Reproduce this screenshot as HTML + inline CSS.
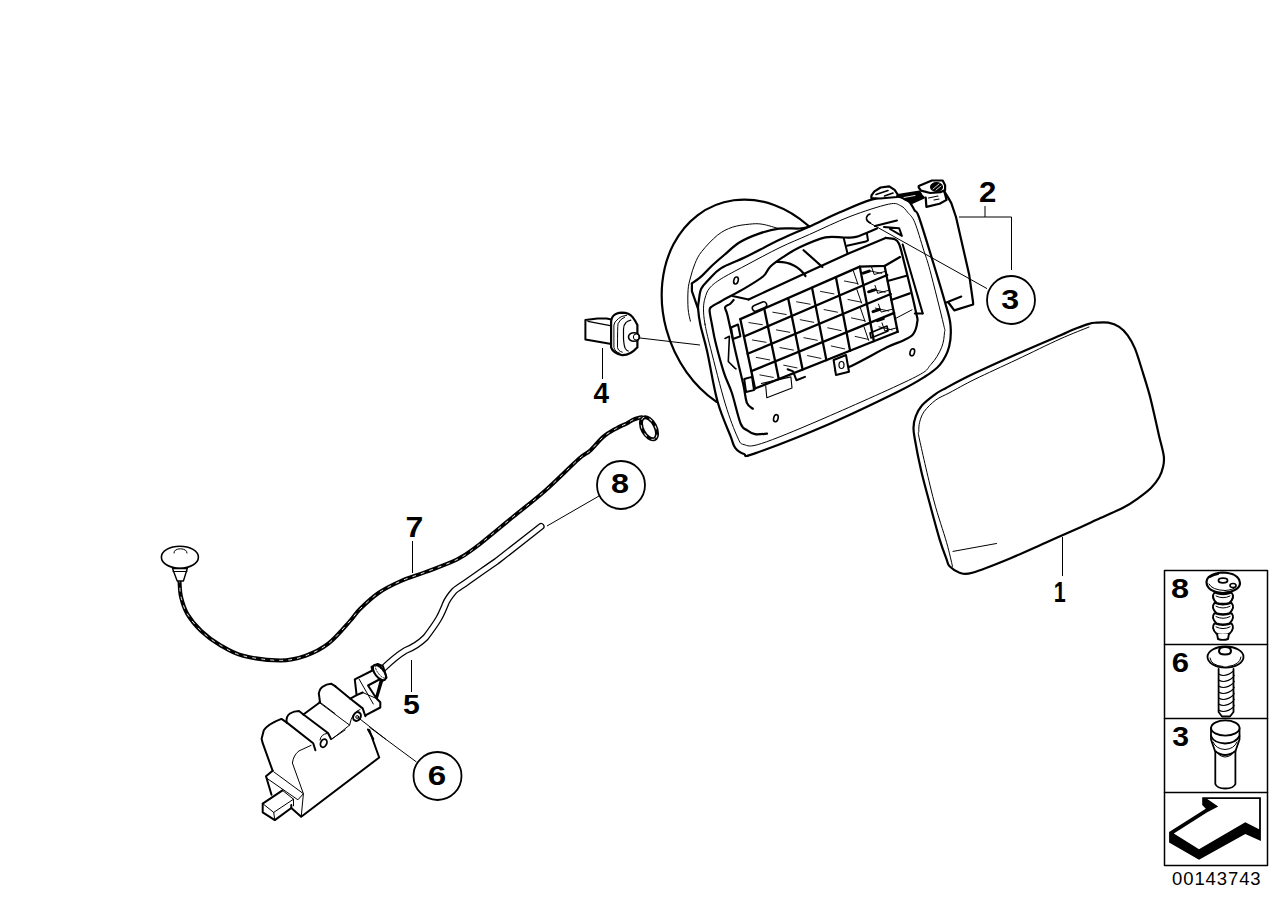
<!DOCTYPE html>
<html><head><meta charset="utf-8"><style>
html,body{margin:0;padding:0;background:#fff;}
svg{display:block;}
text{font-family:"Liberation Sans",sans-serif;font-weight:bold;fill:#000;}
</style></head><body>
<svg width="1288" height="910" viewBox="0 0 1288 910" fill="none" stroke="#000" stroke-linejoin="round" stroke-linecap="round">
<g id="labels">
<text transform="translate(978.91,202.00) scale(1.1138,1.0233)" font-size="28" stroke="none">2</text>
<text transform="translate(1001.26,308.71) scale(1.1498,0.9571)" font-size="28" stroke="none">3</text>
<text transform="translate(593.58,403.00) scale(0.9995,1.0382)" font-size="28" stroke="none">4</text>
<text transform="translate(610.96,492.72) scale(1.1591,1.0089)" font-size="28" stroke="none">8</text>
<text transform="translate(405.62,537.00) scale(1.1422,1.0382)" font-size="28" stroke="none">7</text>
<text transform="translate(403.06,714.22) scale(1.0779,0.9977)" font-size="28" stroke="none">5</text>
<text transform="translate(427.77,784.72) scale(1.1831,0.9837)" font-size="28" stroke="none">6</text>
<text transform="translate(1053.65,602.00) scale(0.7680,1.0382)" font-size="28" stroke="none">1</text>
<text transform="translate(1170.96,597.72) scale(1.1591,1.0089)" font-size="28" stroke="none">8</text>
<text transform="translate(1171.85,671.72) scale(1.1091,1.0089)" font-size="28" stroke="none">6</text>
<text transform="translate(1172.31,745.69) scale(1.0779,1.0075)" font-size="28" stroke="none">3</text>
</g>
<g stroke-width="1.8">
<circle cx="1011" cy="300" r="24"/>
<circle cx="621" cy="485" r="24"/>
<circle cx="437.5" cy="776" r="24"/>
</g>
<g stroke-width="1" stroke-linecap="butt">
<path d="M985 206V217M959 217H1011.5V270"/>
<path d="M987 288.6L868 222"/>
<path d="M599 496L547 526"/>
<path d="M416.5 762L357 718"/>
<path d="M411.5 660V692"/>
<path d="M412.5 541V573"/>
<path d="M602.5 348V379"/>
<path d="M640 338L700 345"/>
<path d="M1062.5 537V576"/>
</g>
<g id="legend">
<rect x="1164.5" y="570.5" width="103" height="295" stroke-width="1.5"/>
<path d="M1164.5 644.5H1267.5M1164.5 718.5H1267.5M1164.5 792.5H1267.5" stroke-width="1.5"/>
<text x="1172" y="885" font-size="18.5" letter-spacing="0.9" stroke="none" style="font-weight:normal">00143743</text>
<path d="M1202.2 797.3H1260.9V841L1245.3 834L1199 859.8L1169.1 842.6V832L1205.8 808.8L1202.2 805Z" fill="#000" stroke="none"/>
<path d="M1173.8 833.6L1206.8 812.6L1218.2 806.4L1207.3 799.1H1259.1V829.2L1245.3 822.3L1199 849.2Z" fill="#fff" stroke="none"/>
</g>
<!-- 10_housing.svg -->
<g id="housing">
<path d="M808.4 225.8A112 92.2 -110.9 1 0 716.5 401.8" stroke-width="2.2"/>
<path d="M690.4 321.2 C690.0 319.1 688.5 314.1 688.1 308.8 C687.7 303.5 687.7 294.7 688.1 289.6 C688.5 284.5 689.2 282.4 690.4 278.0 C691.5 273.6 693.1 267.9 695.0 263.5 C696.9 259.1 698.0 256.1 701.8 251.4 C705.6 246.7 712.5 239.1 717.6 235.1 C722.7 231.1 727.1 229.0 732.4 227.2 C737.7 225.4 744.2 224.7 749.2 224.2 C754.2 223.7 757.2 223.4 762.1 224.2 C767.0 224.9 776.1 227.9 778.9 228.7" stroke-width="1"/>
<path d="M809.6 226.5 C808.0 226.8 804.8 228.1 799.7 228.5 C794.6 228.9 785.7 227.8 778.9 228.7 C772.1 229.5 765.7 231.3 759.1 233.6 C752.5 235.9 745.1 238.9 739.3 242.5 C733.5 246.1 728.8 251.1 724.2 255.0 C719.6 258.9 715.6 262.3 711.9 265.8 C708.2 269.3 705.2 272.9 701.9 275.8 C698.6 278.8 693.6 282.2 691.9 283.5" stroke-width="2.2"/>
<path d="M691.9 283.5 L691.9 291.2 L698.1 308.8" stroke-width="2.2"/>
<path d="M698.1 308.8 C697.8 304.8 698.3 304.5 698.8 301.2 C699.3 297.9 699.5 292.4 701.2 288.8 C702.9 285.2 705.5 283.1 708.8 279.6 C712.1 276.2 715.2 271.8 721.2 268.1 C727.2 264.4 735.2 262.1 745.0 257.3 C754.8 252.6 769.2 244.7 780.0 239.6 C790.8 234.5 799.7 231.0 809.6 226.5 C819.5 222.0 828.9 217.1 839.2 212.6 C849.5 208.1 862.0 202.3 871.5 199.6 C881.0 196.9 890.0 196.2 896.2 196.5 C902.4 196.8 905.4 198.9 908.5 201.2 C911.6 203.5 912.9 207.8 914.6 210.4 C916.3 213.0 916.0 209.2 918.7 216.5 C921.4 223.8 926.3 240.1 930.6 254.1 C934.9 268.1 941.2 288.8 944.5 300.5 C947.8 312.2 949.6 316.6 950.4 324.2 C951.2 331.8 950.9 339.5 949.2 346.2 C947.5 352.9 944.1 359.5 940.0 364.6 C935.9 369.7 931.8 372.3 924.6 376.9 C917.4 381.5 912.7 384.5 896.9 392.3 C881.1 400.1 853.6 413.5 830.0 423.7 C806.4 433.9 769.3 448.3 755.0 453.4 C740.7 458.4 747.3 454.9 744.0 454.0 C740.7 453.1 737.4 450.8 735.2 447.9 C733.0 445.0 733.7 444.6 730.8 436.9 C727.9 429.2 721.6 416.1 717.6 401.8 C713.6 387.5 709.9 363.6 707.0 350.8 C704.1 338.0 701.9 332.0 700.4 325.0 C698.9 318.0 698.4 312.8 698.1 308.8 Z" stroke-width="2.2"/>
<path d="M705.0 324.2 C703.8 317.6 703.5 313.1 703.5 308.8 C703.5 304.5 704.0 301.6 705.0 298.1 C706.0 294.7 706.9 291.3 709.6 288.1 C712.3 284.9 715.3 282.5 721.2 278.8 C727.1 275.1 735.2 271.0 745.0 265.8 C754.8 260.6 769.2 252.7 780.0 247.5 C790.8 242.3 797.9 239.6 809.6 234.4 C821.3 229.2 836.9 221.5 850.0 216.5 C863.1 211.5 880.0 206.0 888.5 204.2 C897.0 202.4 897.6 204.4 900.8 205.8 C904.0 207.2 905.6 209.8 907.9 212.6 C910.2 215.4 912.2 216.2 914.8 222.5 C917.4 228.8 921.2 242.2 923.7 250.2 C926.2 258.2 926.7 258.1 930.0 270.4 C933.3 282.7 941.1 313.9 943.5 324.2 C945.9 334.5 944.8 328.3 944.5 332.2 C944.2 336.1 943.8 342.3 941.5 347.7 C939.2 353.1 935.7 359.5 930.8 364.6 C925.9 369.7 930.8 369.3 912.3 378.5 C893.8 387.7 845.1 409.2 820.0 420.0 C794.9 430.8 774.2 439.4 761.5 443.5 C748.8 447.6 748.0 445.7 744.0 444.6 C740.0 443.5 740.5 443.7 737.4 436.9 C734.3 430.1 729.8 418.8 725.3 404.0 C720.8 389.2 714.0 361.7 710.6 348.4 C707.2 335.1 706.2 330.8 705.0 324.2 Z" stroke-width="1"/>
<path d="M767.0 433.6 C765.0 433.7 758.3 434.8 755.0 434.2 C751.7 433.6 749.7 432.1 747.3 430.3 C744.9 428.6 743.3 429.9 740.7 423.7 C738.1 417.5 734.7 401.5 731.9 393.0 C729.1 384.5 726.6 381.1 723.9 372.6 C721.2 364.2 717.5 350.4 715.5 342.3 C713.5 334.2 712.9 329.5 711.9 324.2 C710.9 318.9 709.6 313.3 709.6 310.4 C709.6 307.4 710.0 308.0 711.9 306.5 C713.8 305.0 715.7 304.3 721.2 301.2 C726.7 298.1 738.0 292.2 745.0 288.1 C752.0 284.0 758.8 280.0 763.0 276.5 C767.2 273.0 766.7 270.2 770.0 267.0 C773.3 263.8 777.9 260.5 782.9 257.2 C787.9 253.9 792.6 250.6 799.7 247.3 C806.8 244.0 818.0 239.0 825.4 237.4 C832.8 235.8 838.9 237.6 844.0 237.5 C849.1 237.4 850.5 238.4 856.0 236.9 C861.5 235.4 873.3 229.9 876.8 228.5" stroke-width="2.2"/>
<path d="M885.6 237.9 C887.1 238.1 892.6 238.3 894.8 239.2 C897.0 240.1 897.4 240.3 898.7 243.2 C900.0 246.1 899.8 245.0 902.7 256.4 C905.6 267.8 913.5 300.7 915.9 311.7 C918.3 322.7 917.7 318.5 917.2 322.2 C916.8 325.9 915.6 331.0 913.2 334.1 C910.8 337.2 907.1 338.5 902.7 340.7 C898.3 342.9 895.5 343.1 886.9 347.3 C878.2 351.6 859.4 362.3 850.8 366.2 C842.2 370.1 838.0 370.0 835.4 370.8" stroke-width="2.2"/>
<path d="M748.6 299.5 L814.5 269.0 L849.1 253.2 L885.6 237.9" stroke-width="2.2"/>
<path d="M732.4 296.0 L748.6 299.5" stroke-width="2"/>
<ellipse cx="736" cy="280.5" rx="2.2" ry="3.6" stroke-width="1.6" transform="rotate(15 736 280.5)"/>
<ellipse cx="912.3" cy="352.3" rx="2.2" ry="3.6" stroke-width="1.6" transform="rotate(15 912.3 352.3)"/>
<ellipse cx="775.9" cy="418.2" rx="2.2" ry="3.6" stroke-width="1.6" transform="rotate(15 775.9 418.2)"/>
<path d="M870.5 223Q866 221 866.5 217.5Q867.5 214.5 870 214" stroke-width="1.6"/>
<path d="M744.0 336.5 L887.2 275.0" stroke-width="2.3"/>
<path d="M747.6 353.8 L890.7 294.0" stroke-width="2.3"/>
<path d="M751.3 371.1 L894.2 312.9" stroke-width="2.3"/>
<path d="M755.0 388.5 L897.7 331.8" stroke-width="2.3"/>
<path d="M740.3 319.1 L859.8 266.6 L884.6 265.9 L900.0 257.1" stroke-width="2.3"/>
<path d="M740.3 319.1 L755.0 388.5" stroke-width="2.3"/>
<path d="M764.2 308.6 L778.8 379.1" stroke-width="2.3"/>
<path d="M788.1 298.1 L802.6 369.6" stroke-width="2.3"/>
<path d="M812.0 287.6 L826.4 360.1" stroke-width="2.3"/>
<path d="M835.9 277.1 L850.1 350.7" stroke-width="2.3"/>
<path d="M859.8 266.6 L873.9 341.2" stroke-width="2.3"/>
<path d="M884.6 265.9 L897.7 331.8" stroke-width="2.3"/>
<path d="M887.7 281.0 L906.5 275.8" stroke-width="2.2"/>
<path d="M891.2 300.0 L909.8 293.4" stroke-width="2.2"/>
<path d="M894.7 318.9 L912.0 309.8" stroke-width="1"/>
<path d="M748.9 322.6 L762.3 324.7" stroke-width="0.9"/>
<path d="M752.5 340.0 L766.0 342.3" stroke-width="0.9"/>
<path d="M756.2 357.4 L769.6 359.9" stroke-width="0.9"/>
<path d="M759.9 374.9 L773.3 377.4" stroke-width="0.9"/>
<path d="M772.8 312.2 L786.2 314.5" stroke-width="0.9"/>
<path d="M776.4 329.9 L789.8 332.3" stroke-width="0.9"/>
<path d="M780.0 347.6 L793.5 350.1" stroke-width="0.9"/>
<path d="M783.7 365.2 L797.1 367.9" stroke-width="0.9"/>
<path d="M796.6 301.8 L810.1 304.2" stroke-width="0.9"/>
<path d="M800.2 319.7 L813.7 322.3" stroke-width="0.9"/>
<path d="M803.9 337.7 L817.3 340.3" stroke-width="0.9"/>
<path d="M807.5 355.6 L820.9 358.4" stroke-width="0.9"/>
<path d="M820.5 291.4 L834.0 293.9" stroke-width="0.9"/>
<path d="M824.1 309.6 L837.5 312.2" stroke-width="0.9"/>
<path d="M827.7 327.8 L841.1 330.6" stroke-width="0.9"/>
<path d="M831.3 346.0 L844.7 348.9" stroke-width="0.9"/>
<path d="M844.4 281.0 L857.8 283.6" stroke-width="0.9"/>
<path d="M848.0 299.5 L861.4 302.2" stroke-width="0.9"/>
<path d="M851.5 317.9 L864.9 320.8" stroke-width="0.9"/>
<path d="M855.1 336.4 L868.5 339.4" stroke-width="0.9"/>
<path d="M868.3 270.6 L881.7 273.3" stroke-width="0.9"/>
<path d="M871.8 289.3 L885.2 292.2" stroke-width="0.9"/>
<path d="M875.3 308.1 L888.7 311.0" stroke-width="0.9"/>
<path d="M878.9 326.8 L892.2 329.9" stroke-width="0.9"/>
<path d="M956.0 217.0 L969.2 274.8 L973.1 302.5 L973.1 304.5 L954.3 310.4 L948.4 302.5" stroke-width="2.2"/>
<path d="M946.4 302.5 L961.3 296.5" stroke-width="2"/>
<path d="M922.7 313.4 L902.7 244.5" stroke-width="2"/>
<path d="M914.8 313.4 L922.7 313.4" stroke-width="2"/>
<path d="M871.3 198L871.5 195.3L874.4 191.4L880.6 187.5L889.2 186.4L894.6 189.9L897.7 194.5L897 197L880 198.5Z" stroke-width="2.2" fill="#fff"/>
<path d="M876 194.5L888 190.5M884.5 196L893 193" stroke-width="1.6"/>
<path d="M897.7 195L900.8 194.5L919.5 191.4L921.8 195.3L924.1 197.6L912.5 203L905.5 200Z" stroke-width="1.8" fill="#000"/>
<path d="M904 197.5L915 195.5" stroke="#fff" stroke-width="0.9"/>
<path d="M925.7 197.6L926.4 206.9L939.6 203.8L946.6 199.9L944.3 191.4" stroke-width="2.2" fill="#fff"/>
<path d="M928.5 198L938 196M934 200L939 199" stroke-width="1.2"/>
<path d="M918.7 186L931.9 180.5H942.7L945.1 185.2V189.9L940.4 192.2L930.3 193L921 190.6L918.7 187.5Z" stroke-width="2.2" fill="#fff"/>
<ellipse cx="936.5" cy="187" rx="5.8" ry="4.2" stroke-width="1.5" fill="#000"/>
<path d="M933 189L939 184M936 190L941 186" stroke="#fff" stroke-width="0.8"/>
<path d="M944.3 191.4 L948.2 197.6 L951.3 203.1 L956.0 217.0" stroke-width="2.2"/>
<path d="M752.9 408.8 C751.9 407.8 748.5 406.8 746.9 402.8 C745.3 398.8 745.3 393.7 743.3 384.6 C741.3 375.5 737.4 359.9 734.8 348.4 C732.2 336.9 729.2 322.5 727.6 315.7 C726.0 308.9 724.7 309.2 725.1 307.3 C725.5 305.4 728.6 305.2 730.0 304.0 C731.4 302.8 733.0 300.7 733.6 300.0" stroke-width="2.2"/>
<path d="M776 262Q795 261 805.5 276" stroke-width="2.2"/>
<path d="M803.6 250.2 L822.4 267.0" stroke-width="2.2"/>
<path d="M843.7 237.9 L847.6 253.7" stroke-width="2"/>
<path d="M847.0 245.8 L866.0 241.5 L868.0 240.3 L866.9 233.4" stroke-width="2"/>
<path d="M875.0 226.0 L896.9 220.5" stroke-width="2.2"/>
<path d="M884.0 227.0 L899.1 228.2 L901.9 235.9 L890.0 229.0" stroke-width="2"/>
<path d="M853.4 271.0 L858.0 284.5" stroke-width="1"/>
<path d="M871.4 266.6 L874.2 274.5 L885.2 271.4" stroke-width="1"/>
<path d="M856.9 289.6 L861.6 303.1" stroke-width="1"/>
<path d="M875.0 285.4 L877.7 293.3 L888.7 290.3" stroke-width="1"/>
<path d="M860.5 308.2 L865.1 321.7" stroke-width="1"/>
<path d="M878.5 304.1 L881.2 312.1 L892.2 309.2" stroke-width="1"/>
<path d="M864.0 326.8 L868.6 340.3" stroke-width="1"/>
<path d="M882.0 322.9 L884.8 330.9 L895.7 328.1" stroke-width="1"/>
<path d="M863.2 273.1L869.2 271.1" stroke-width="3"/>
<path d="M868.6 291.8L874.6 289.8" stroke-width="3"/>
<path d="M873 311.6L879 309.6" stroke-width="3"/>
<path d="M877.3 320.6L883.3 318.6" stroke-width="3"/>
<rect x="752" y="303.5" width="15" height="6" rx="3" transform="rotate(-22 759.5 306.5)" stroke-width="1.6" fill="#fff"/>
<path d="M731.0 327.5 L738.0 324.5 L740.4 336.3 L733.0 339.0 Z" stroke-width="2" fill="#fff"/>
<path d="M744.2 379.0 L752.0 376.9 L754.0 390.1 L746.0 392.0 Z" stroke-width="2" fill="#fff"/>
<path d="M761.3 383.5 L790.9 376.9 L792.0 387.9 L766.8 397.8 L765.7 385.7" stroke-width="1.1"/>
<path d="M787.6 369.2 L793.1 371.4 L796.4 380.2 L805.0 376.9" stroke-width="2"/>
<path d="M833.6 360.0 L846.0 355.0 L849.0 371.8 L836.0 375.0 Z" stroke-width="2" fill="#fff"/>
<ellipse cx="841.5" cy="365" rx="2.5" ry="3.5" stroke-width="1.2"/>
<path d="M725.0 338.5 L729.4 336.3 L728.3 361.5 L734.9 368.1 L736.0 368.9" stroke-width="1.6"/>
<path d="M870.0 333.0 L887.0 326.0 L888.0 331.0 L871.0 338.0 Z" stroke-width="1.6"/>
</g>
<!-- 15_door.svg -->
<g id="door">
<path d="M1060.0 335.4 C1069.2 331.4 1067.3 331.9 1072.1 330.0 C1076.9 328.1 1085.0 325.1 1089.0 323.9 C1093.0 322.7 1093.1 322.9 1096.3 322.7 C1099.5 322.5 1104.6 322.0 1108.4 322.7 C1112.2 323.4 1116.0 324.8 1119.2 326.9 C1122.4 329.0 1125.1 331.8 1127.7 335.4 C1130.3 339.0 1132.6 342.8 1135.0 348.7 C1137.4 354.6 1139.8 362.9 1142.2 370.5 C1144.6 378.1 1147.3 386.4 1149.5 394.6 C1151.7 402.9 1153.9 413.0 1155.5 420.0 C1157.1 427.0 1157.8 430.4 1159.2 436.4 C1160.6 442.4 1163.2 451.1 1163.8 456.2 C1164.4 461.2 1163.9 463.2 1163.1 466.7 C1162.3 470.2 1161.2 473.8 1159.2 477.3 C1157.2 480.8 1154.7 484.3 1151.2 487.8 C1147.7 491.3 1142.6 495.1 1138.0 498.4 C1133.4 501.7 1130.3 504.1 1123.5 507.6 C1116.7 511.1 1104.5 516.2 1097.2 519.5 C1090.0 522.8 1088.7 523.5 1080.0 527.4 C1071.3 531.3 1056.7 537.8 1045.0 543.0 C1033.3 548.2 1022.1 553.4 1010.0 558.4 C997.9 563.4 980.7 570.3 972.3 572.7 C963.9 575.1 963.3 573.8 959.5 572.7 C955.7 571.6 951.8 568.5 949.6 566.3 C947.5 564.1 948.2 563.8 946.6 559.3 C945.0 554.8 942.7 549.5 939.7 539.6 C936.7 529.7 931.9 511.6 928.8 500.0 C925.7 488.4 923.3 480.0 921.0 470.0 C918.7 460.0 916.2 447.1 915.0 440.0 C913.8 432.9 913.4 431.7 913.5 427.7 C913.6 423.7 914.4 419.9 915.8 416.2 C917.2 412.5 918.6 409.1 921.9 405.4 C925.2 401.7 931.7 396.8 935.8 393.8 C939.9 390.9 940.0 391.1 946.5 387.7 C953.0 384.2 963.2 378.7 975.0 373.1 C986.8 367.5 1002.8 360.3 1017.0 354.0 C1031.2 347.7 1050.8 339.4 1060.0 335.4 Z" stroke-width="2.2"/>
<path d="M952.5 566.3 C951.5 562.3 949.7 553.5 946.6 542.5 C943.5 531.5 938.2 517.1 933.7 500.0 C929.2 482.9 922.1 451.4 919.6 440.0 C917.1 428.6 918.8 434.4 918.8 431.5 C918.8 428.6 918.7 425.6 919.6 422.3 C920.5 419.0 921.5 415.2 924.2 411.5 C926.9 407.8 931.5 403.2 935.8 400.0 C940.1 396.8 943.5 396.0 950.0 392.5 C956.5 389.0 963.8 384.7 975.0 379.2 C986.2 373.7 1002.8 366.2 1017.0 359.5 C1031.2 352.8 1048.0 344.4 1060.0 339.0 C1072.0 333.6 1084.2 329.0 1089.0 327.0" stroke-width="1"/>
<path d="M953 551.4L996.5 543.5" stroke-width="1"/>
</g>
<!-- 20_cable.svg -->
<g id="cable7">
<path d="M641.5 417.2 C640.1 417.6 635.4 418.7 632.9 419.8 C630.4 420.9 629.0 422.3 626.3 423.7 C623.5 425.1 620.2 426.2 616.4 428.4 C612.5 430.6 607.6 433.2 603.2 436.9 C598.8 440.6 594.1 447.1 590.0 450.8 C585.9 454.5 585.9 452.6 578.4 459.3 C570.9 466.0 555.7 481.4 544.8 491.0 C533.9 500.6 524.7 507.4 513.2 516.7 C501.7 526.0 485.4 539.9 476.0 547.0 C466.6 554.1 465.4 555.3 457.0 559.5 C448.6 563.7 435.0 568.4 425.7 572.0 C416.4 575.6 408.9 577.5 401.0 581.0 C393.1 584.5 385.3 588.3 378.5 593.0 C371.7 597.7 364.8 604.3 360.0 609.0 C355.2 613.7 355.2 615.3 350.0 621.0 C344.8 626.7 336.1 637.6 328.6 643.4 C321.2 649.2 313.3 653.0 305.3 655.8 C297.3 658.6 290.8 660.4 280.4 660.4 C270.0 660.4 253.3 658.4 243.2 655.8 C233.1 653.2 226.9 649.0 219.9 644.9 C212.9 640.8 206.6 636.2 201.2 631.0 C195.8 625.8 190.7 619.6 187.3 613.9 C183.9 608.2 182.3 602.2 181.0 596.8 C179.7 591.4 179.8 584.0 179.5 581.5" stroke-width="4"/>
<path d="M641.5 417.2 C640.1 417.6 635.4 418.7 632.9 419.8 C630.4 420.9 629.0 422.3 626.3 423.7 C623.5 425.1 620.2 426.2 616.4 428.4 C612.5 430.6 607.6 433.2 603.2 436.9 C598.8 440.6 594.1 447.1 590.0 450.8 C585.9 454.5 585.9 452.6 578.4 459.3 C570.9 466.0 555.7 481.4 544.8 491.0 C533.9 500.6 524.7 507.4 513.2 516.7 C501.7 526.0 485.4 539.9 476.0 547.0 C466.6 554.1 465.4 555.3 457.0 559.5 C448.6 563.7 435.0 568.4 425.7 572.0 C416.4 575.6 408.9 577.5 401.0 581.0 C393.1 584.5 385.3 588.3 378.5 593.0 C371.7 597.7 364.8 604.3 360.0 609.0 C355.2 613.7 355.2 615.3 350.0 621.0 C344.8 626.7 336.1 637.6 328.6 643.4 C321.2 649.2 313.3 653.0 305.3 655.8 C297.3 658.6 290.8 660.4 280.4 660.4 C270.0 660.4 253.3 658.4 243.2 655.8 C233.1 653.2 226.9 649.0 219.9 644.9 C212.9 640.8 206.6 636.2 201.2 631.0 C195.8 625.8 190.7 619.6 187.3 613.9 C183.9 608.2 182.3 602.2 181.0 596.8 C179.7 591.4 179.8 584.0 179.5 581.5" stroke="#fff" stroke-width="0.9" stroke-dasharray="3 6"/>
<ellipse cx="649" cy="428.3" rx="12" ry="6.5" transform="rotate(62 649 428.3)" stroke-width="4"/>
<ellipse cx="649" cy="428.3" rx="12" ry="6.5" transform="rotate(62 649 428.3)" stroke="#fff" stroke-width="0.9" stroke-dasharray="3 6"/>
<ellipse cx="179.9" cy="557.2" rx="18.5" ry="11" stroke-width="1.6" fill="#fff"/>
<path d="M174 553Q174 549 180.3 548.8Q187 549 187 553" stroke-width="1"/>
<path d="M172.5 568.5H187.3L183.4 581H177.2Z" stroke-width="1.4" fill="#fff"/>
<path d="M173 571.5H187" stroke-width="1"/>
</g>
<!-- 21_tube.svg -->
<g id="tube8">
<path d="M541 526.5L496.5 561.3C488 567 480 573 464.8 583.5C458 588 456 589 454 591.2C449 597 447 600 445.5 604C443 610 441.5 614 438.5 619C435 625 432 629 425.7 637.4C420 643 412 648 405.5 650.5C398 655 390 662 383.7 668L376 674" stroke-width="7.2" stroke-linecap="round"/>
<path d="M541 526.5L496.5 561.3C488 567 480 573 464.8 583.5C458 588 456 589 454 591.2C449 597 447 600 445.5 604C443 610 441.5 614 438.5 619C435 625 432 629 425.7 637.4C420 643 412 648 405.5 650.5C398 655 390 662 383.7 668L376 674" stroke="#fff" stroke-width="4.6" stroke-linecap="round"/>
</g>

<!-- 25_part4.svg -->
<g id="part4">
<path d="M585.4 320.1L597.5 318.6H606.6L611.4 319.5V344L585.4 339.5Z" stroke-width="2" fill="#fff"/>
<path d="M587.9 321.3L610.2 325.6" stroke-width="1.2"/>
<path d="M611.1 323.1V347.3Q613 353 622.3 355.2Q630 355.5 637.4 347.3V325Q635 320 632.6 317.1Q629 312.6 622 312.6Q616 313 613.9 315.3Q611 318 611.1 323.1Z" stroke-width="2.2" fill="#fff"/>
<path d="M626.6 315.3Q621 316 618.7 318.3Q614 322 613.9 325V347.3Q615 352 619.9 353.4" stroke-width="1"/>
<path d="M624.7 317.1Q620 319 618 323.7Q617.5 327 617.5 347.3Q618 351 622.3 352.2" stroke-width="1"/>
<path d="M630.8 320.1Q627 321 626 322.5Q623.5 325 623.5 329.2V338.9Q624 346 625.3 348.5Q627 351 628.4 351" stroke-width="1.2"/>
<ellipse cx="634" cy="337" rx="5.5" ry="4.3" stroke-width="1.6" fill="#fff"/>
<ellipse cx="636.3" cy="337" rx="3" ry="3" stroke-width="1"/>
</g>

<!-- 30_actuator.svg -->
<g id="actuator">
<!-- fill white silhouette -->
<path fill="#fff" stroke="none" d="M261.6 739L263.8 730.3L281.4 718.9L286.6 722.4L287.5 716.3L294.6 711H299L303.4 714.5L320 702.2L318.7 695.2L321.8 688.1L328.8 683.7H331.5L335 686.4L350.4 698.7L356.6 695.2L354.8 679.3L372.4 670.5L371.5 667L377.7 664L383 666.2L386.5 677.6L382.1 681.1L376.8 698.7L380.3 702.2V707.5L365.4 715.4L379.2 757.5L301.2 816.8L291.3 808L274.8 820.1L262.7 812.4V803.6L271.5 794.8L266 776.2L272.6 770.7Z"/>
<g stroke-width="2">
<!-- left profile + ridge 1 hump -->
<path d="M272.6 770.7L262.7 743.2L261.6 738.8L263.8 730.3Q268 724 281.4 718.9L286.6 722.4"/>
<path d="M286.6 722.4Q286 716 290 713.5Q294 711 299 711L303.4 714.5"/>
<!-- ridge1 top edge -->
<path d="M303.4 714.5L328 733L331 739"/>
<!-- ridge1 lower edge -->
<path d="M286.6 722.4L313.2 743.2L315.4 750.3"/>
<!-- valley top -->
<path d="M303.4 714.5L320 702.2"/>
<!-- ridge 2 hump -->
<path d="M320 702.2L318.8 693.4Q320 688 323.2 686.4Q326 684 331.1 683.7L335.5 686.4"/>
<!-- ridge2 top edge -->
<path d="M335.5 686.4L350.4 698.7L362.7 708.4L365.4 716.3"/>
<!-- connector -->
<path d="M350.4 698.7L356.6 695.2L354.8 679.3L372.4 670.5L371.5 667L377.7 664L383 666.2L386.5 677.6L382.1 681.1L376.8 698.7L380.3 702.2V707.5L365.4 715.4"/>
<path d="M356.6 695.2L362.7 692.5M368 685.5L381.2 678.5L376 697.8Z" />
<!-- right edge / bottom -->
<path d="M369.3 730L379.2 757.5L301.2 816.8L291.3 808"/>
<path d="M368 729.5L373.3 739.1"/>
<!-- plunger housing left -->
<path d="M272.6 770.7L266 776.2L271.5 794.8"/>
<!-- plunger -->
<path d="M262.7 803.6L282.5 790.4M262.7 803.6V812.4L274.8 820.1L291.3 808V805"/>
<!-- holes -->
<ellipse cx="323.7" cy="743.2" rx="3" ry="4.2" transform="rotate(25 323.7 743.2)" stroke-width="1.8"/>
<ellipse cx="357" cy="716.5" rx="3.6" ry="4.6" transform="rotate(30 357 716.5)" stroke-width="2" fill="#fff"/><circle cx="357.3" cy="717" r="1.5" stroke-width="1"/>
</g>
<g stroke-width="1">
<path d="M320 702.2L335 713.6"/>
<path d="M318.8 702.2L349.6 725.1L332 739.1"/>
<path d="M359.2 679.3L373.3 704"/>
<path d="M362.7 692.5L376.8 698.7"/>
<path d="M311 745.4L299 750.9Q293.5 755 292.4 763L303.4 793.7L301.2 816.8"/>
<path d="M267 778.4L297.9 799.8L303.4 793.7L273.7 771.8"/>
<path d="M282.5 790.4L293.5 799.2L273.7 812.4L262.7 803.6M273.7 812.4L274.8 820.1M293.5 799.2V805.8"/>
<path d="M331.9 738.8L345.1 730"/>
<path d="M320 740Q321 734 327 733.5" />
<path d="M357.5 717.1L385.6 739.1"/>
<path d="M349.6 725.1Q352 712 360 709.5"/>
</g>
<!-- ferrule -->
<ellipse cx="379.5" cy="672.5" rx="4.5" ry="9" transform="rotate(-38 379.5 672.5)" stroke-width="2" fill="#fff"/><ellipse cx="380.5" cy="672" rx="2.5" ry="7.5" transform="rotate(-38 380.5 672)" stroke-width="0.8" stroke-dasharray="1.5 1.5"/>
</g>

<!-- 40_legend_icons.svg -->
<g id="icons">
<!-- icon 8: ribbed clip -->
<path d="M1214.5 592.5C1212 595.5 1212 598.5 1216.5 602.8Q1223 604.8 1229.5 602.8C1234 598.5 1234 595.5 1231.5 592.5Q1223 596.0 1214.5 592.5Z" stroke-width="1.9" fill="#fff"/>
<path d="M1216 596.0Q1223 599.5 1230 596.0" stroke-width="1"/>
<path d="M1214.5 602.8C1212 605.8 1212 608.8 1216.5 613.0999999999999Q1223 615.0999999999999 1229.5 613.0999999999999C1234 608.8 1234 605.8 1231.5 602.8Q1223 606.3 1214.5 602.8Z" stroke-width="1.9" fill="#fff"/>
<path d="M1216 606.3Q1223 609.8 1230 606.3" stroke-width="1"/>
<path d="M1214.5 613.1C1212 616.1 1212 619.1 1216.5 623.4Q1223 625.4 1229.5 623.4C1234 619.1 1234 616.1 1231.5 613.1Q1223 616.6 1214.5 613.1Z" stroke-width="1.9" fill="#fff"/>
<path d="M1216 616.6Q1223 620.1 1230 616.6" stroke-width="1"/>
<path d="M1214.5 623.4C1212 626.4 1212 629.4 1216.5 633.6999999999999Q1223 635.6999999999999 1229.5 633.6999999999999C1234 629.4 1234 626.4 1231.5 623.4Q1223 626.9 1214.5 623.4Z" stroke-width="1.9" fill="#fff"/>
<path d="M1216 626.9Q1223 630.4 1230 626.9" stroke-width="1"/>
<path d="M1217 633.7L1218 639Q1223 640.8 1228 639L1229 633.7" stroke-width="1.9" fill="#fff"/>
<path d="M1206.5 582Q1207 574 1222 572.5Q1239 573 1240 583Q1240 591 1223 593Q1207 592 1206.5 582Z" stroke-width="2.2" fill="#fff"/>
<path d="M1209 584Q1212 590 1225 590.5Q1233 590 1236 587" stroke-width="1"/>
<path d="M1210 577Q1214 574.5 1218 574" stroke-width="2"/>
<ellipse cx="1223" cy="580.5" rx="4.5" ry="2.3" stroke-width="1.8"/>
<ellipse cx="1233" cy="585.5" rx="3" ry="2" stroke-width="1.6"/>
<!-- icon 6: screw -->
<g stroke-width="1.8">
<path d="M1218.6 669V712L1222 716.5H1230L1233.5 712V669" fill="#fff"/>
<ellipse cx="1225.5" cy="657" rx="18" ry="10.5" fill="#fff"/>
</g>
<path d="M1210 658Q1211 665.5 1223 666.5M1228 666.5Q1240 665 1241 657" stroke-width="1"/>
<path d="M1219 651Q1219 647 1225 647Q1231 647 1231 651Q1231 654.5 1225 654.5Q1219 654.5 1219 651Z" stroke-width="2"/>
<path d="M1218.6 674Q1225 678 1233.5 671M1218.6 680Q1225 684 1233.5 677M1218.6 686Q1225 690 1233.5 683M1218.6 692Q1225 696 1233.5 689M1218.6 698Q1225 702 1233.5 695M1218.6 704Q1225 708 1233.5 701M1218.6 710Q1225 714 1233.5 707" stroke-width="1.1"/>
<path d="M1233.5 674Q1235.5 676 1233.5 677M1233.5 680Q1235.5 682 1233.5 683M1233.5 686Q1235.5 688 1233.5 689M1233.5 692Q1235.5 694 1233.5 695M1233.5 698Q1235.5 700 1233.5 701M1233.5 704Q1235.5 706 1233.5 707" stroke-width="1"/>
<!-- icon 3: pin -->
<g stroke-width="1.8" fill="#fff">
<path d="M1215.3 750V784Q1217 788.5 1225.3 788.5Q1233.5 788.5 1235.4 784V750"/>
<path d="M1211 728V739.5L1215 751Q1225 759 1235.5 751L1239.5 739.5V728"/>
<ellipse cx="1225.3" cy="728" rx="14.2" ry="7.6"/>
</g>
<path d="M1211 736Q1214 743 1225 743.5Q1236 743 1239.5 736" stroke-width="1.8"/>
<path d="M1213 742Q1216 749 1225 749.5Q1234 749 1237 742M1216 751Q1219 756.5 1225 757Q1232 756.5 1234.5 751" stroke-width="1"/>
</g>

</svg>
</body></html>
